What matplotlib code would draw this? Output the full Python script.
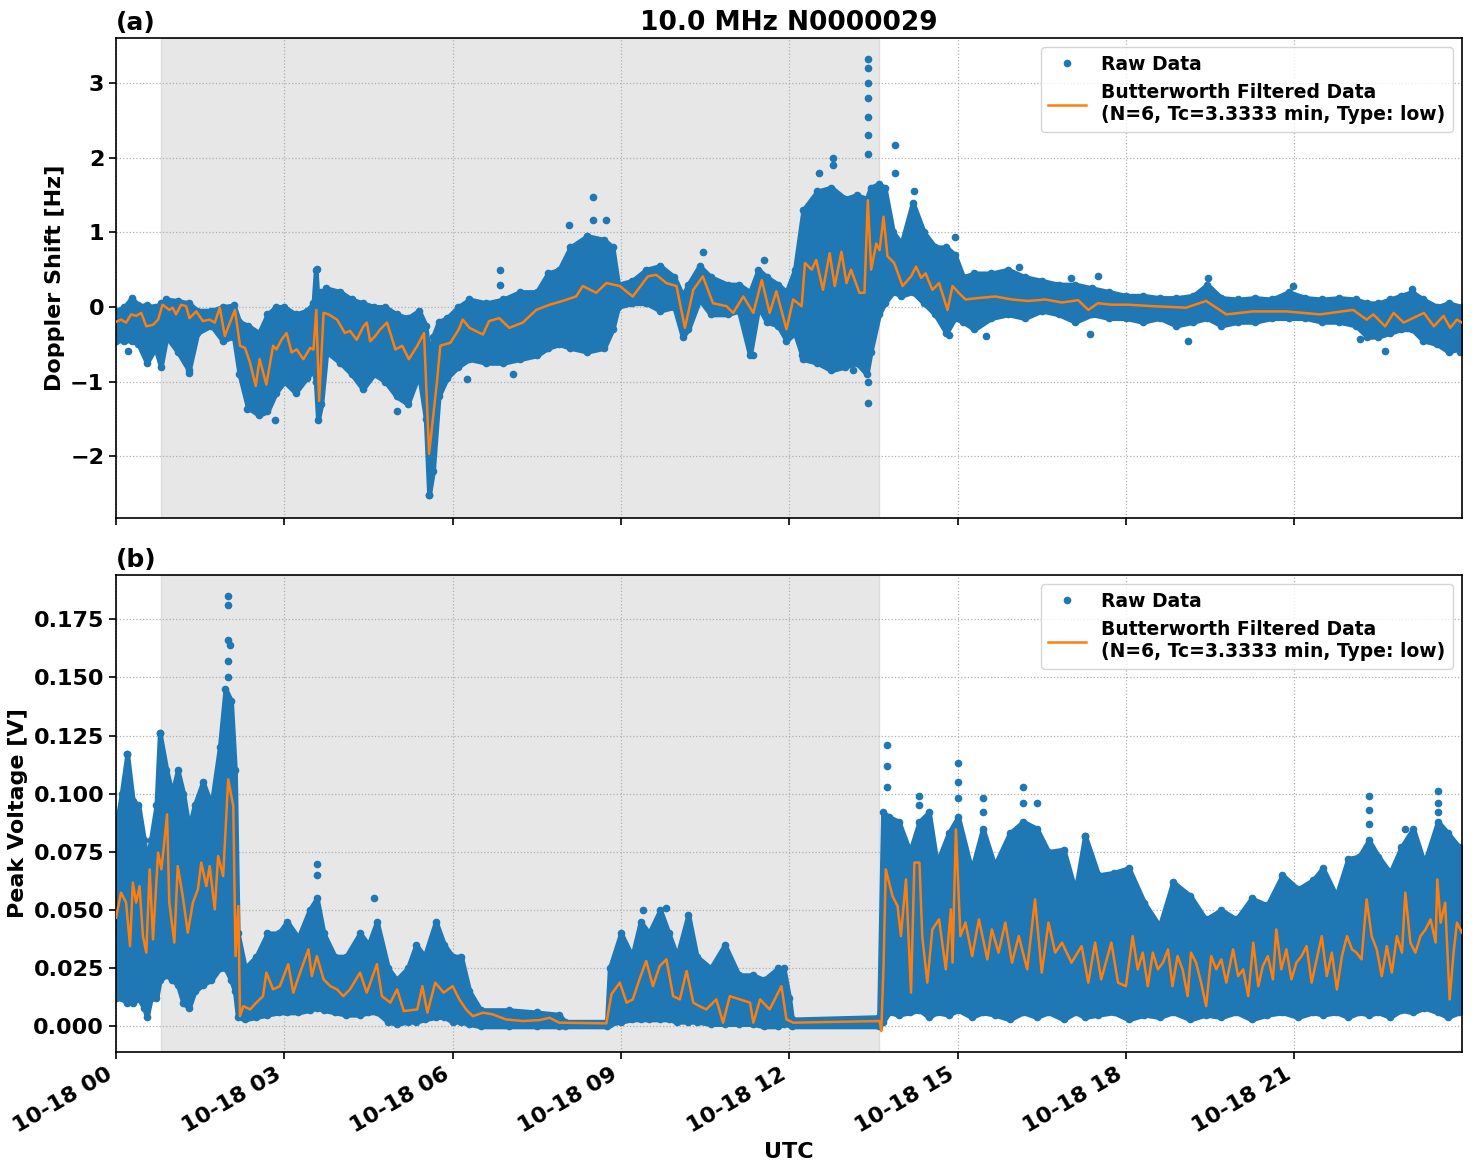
import numpy as np
import matplotlib
matplotlib.use("Agg")
import matplotlib.pyplot as plt
import matplotlib.dates as mdates
from datetime import datetime, timedelta

# ---------------- data (hours after 2023-10-18 00:00 UTC) ----------------
# Panel (a): Doppler shift raw-data envelope
dop_band_t = [0.00, 0.15, 0.28, 0.40, 0.55, 0.70, 0.80, 0.90, 1.10, 1.30, 1.45, 1.70, 1.90, 2.10,
              2.20, 2.35, 2.55, 2.70, 2.85, 3.00, 3.20, 3.40, 3.52, 3.56, 3.60, 3.66, 3.75, 4.00,
              4.20, 4.40, 4.60, 4.80, 5.00, 5.20, 5.40, 5.52, 5.58, 5.65, 5.75, 5.90, 6.10, 6.30,
              6.60, 6.90, 7.20, 7.50, 7.70, 7.90, 8.10, 8.40, 8.70, 8.85, 8.95, 9.20, 9.45, 9.70,
              9.95, 10.10, 10.20, 10.40, 10.60, 10.90, 11.10, 11.30, 11.45, 11.60, 11.80, 11.95,
              12.10, 12.25, 12.50, 12.75, 13.00, 13.20, 13.38, 13.45, 13.60, 13.70, 13.85, 14.00,
              14.20, 14.40, 14.60, 14.80, 14.95, 15.10, 15.30, 15.60, 15.90, 16.20, 16.50, 16.80,
              17.10, 17.40, 17.70, 18.00, 18.30, 18.60, 18.90, 19.20, 19.45, 19.70, 20.00, 20.30,
              20.60, 20.90, 21.20, 21.50, 21.80, 22.10, 22.30, 22.50, 22.70, 22.90, 23.10, 23.30,
              23.55, 23.75, 23.99]
dop_band_hi = [-0.05, 0.00, 0.12, 0.02, 0.02, 0.00, 0.05, 0.10, 0.08, 0.05, -0.05, -0.05, 0.00, 0.02,
               -0.20, -0.25, -0.35, -0.10, 0.00, 0.00, -0.10, -0.05, 0.05, 0.50, 0.00, 0.20, 0.25, 0.20,
               0.10, 0.05, 0.00, 0.00, -0.10, -0.15, -0.05, -0.25, -0.70, -0.40, -0.20, -0.15, 0.00, 0.10,
               0.05, 0.10, 0.20, 0.20, 0.45, 0.50, 0.80, 0.95, 0.90, 0.80, 0.30, 0.35, 0.50, 0.55,
               0.40, 0.15, 0.30, 0.55, 0.40, 0.30, 0.30, 0.20, 0.50, 0.40, 0.30, 0.20,
               0.50, 1.30, 1.55, 1.60, 1.45, 1.50, 1.45, 1.60, 1.65, 1.60, 1.00, 0.85,
               1.40, 1.00, 0.80, 0.80, 0.70, 0.40, 0.45, 0.45, 0.50, 0.40, 0.35, 0.30,
               0.30, 0.25, 0.20, 0.15, 0.15, 0.12, 0.12, 0.15, 0.30, 0.12, 0.10, 0.12,
               0.10, 0.20, 0.12, 0.10, 0.12, 0.10, 0.05, 0.05, 0.10, 0.15, 0.20, 0.10,
               0.00, 0.05, 0.00]
dop_band_lo = [-0.45, -0.45, -0.45, -0.50, -0.75, -0.55, -0.80, -0.40, -0.60, -0.85, -0.35, -0.25, -0.45, -0.40,
               -0.90, -1.35, -1.45, -1.40, -1.15, -1.00, -1.15, -0.95, -0.85, -1.00, -1.52, -1.30, -0.60, -0.75,
               -0.90, -1.10, -0.90, -1.00, -1.20, -1.30, -0.90, -1.50, -2.52, -2.20, -1.20, -0.95, -0.80, -0.70,
               -0.75, -0.75, -0.70, -0.65, -0.55, -0.50, -0.55, -0.60, -0.55, -0.30, 0.00, 0.05, 0.05, -0.05,
               0.00, -0.40, -0.30, 0.10, -0.10, -0.10, -0.05, -0.65, 0.00, -0.20, -0.25, -0.45,
               -0.35, -0.70, -0.75, -0.85, -0.80, -0.75, -0.90, -0.60, -0.10, 0.05, 0.20, 0.15,
               0.20, 0.05, -0.10, -0.35, -0.15, -0.20, -0.30, -0.15, -0.10, -0.15, -0.05, -0.10,
               -0.20, -0.10, -0.15, -0.15, -0.20, -0.15, -0.25, -0.20, -0.15, -0.25, -0.20, -0.20,
               -0.15, -0.15, -0.15, -0.20, -0.20, -0.25, -0.40, -0.40, -0.35, -0.30, -0.30, -0.45,
               -0.50, -0.60, -0.55]
# isolated raw points of panel (a)
dop_out_t = [0.22, 1.31, 2.33, 2.83, 3.58, 5.01, 5.58, 6.25, 6.85, 6.85, 7.07, 8.08, 8.51, 8.51, 8.73,
             10.46, 11.36, 11.55, 12.23, 12.53, 12.78, 12.78, 13.13, 13.40, 13.40, 13.40, 13.40, 13.40,
             13.40, 13.40, 13.41, 13.41, 13.89, 13.89, 14.23, 14.23, 14.84, 14.95, 15.50, 16.09, 17.03,
             17.36, 17.50, 19.10, 19.46, 20.98, 22.17, 22.61, 23.10, 23.95]
dop_out_v = [-0.59, -0.88, -1.37, -1.52, 0.51, -1.39, -2.52, -0.96, 0.49, 0.29, -0.90, 1.10, 1.48, 1.17, 1.17,
             0.74, -0.64, 0.63, -0.64, 1.79, 2.00, 1.90, -0.84, 3.32, 3.20, 3.00, 2.80, 2.55,
             2.30, 2.05, -1.01, -1.29, 2.17, 1.79, 1.56, 1.12, -0.37, 0.94, -0.39, 0.54, 0.39,
             -0.36, 0.41, -0.46, 0.39, 0.28, -0.43, -0.59, 0.24, -0.61]
# Butterworth filtered Doppler shift
dop_filt_t = [0.00, 0.09, 0.18, 0.27, 0.36, 0.45, 0.54, 0.66, 0.75, 0.83, 0.95, 1.01, 1.07, 1.16, 1.25,
              1.31, 1.43, 1.55, 1.67, 1.76, 1.85, 1.94, 2.03, 2.12, 2.21, 2.30, 2.39, 2.49, 2.56, 2.68,
              2.80, 2.86, 2.95, 3.04, 3.13, 3.22, 3.34, 3.46, 3.52, 3.57, 3.62, 3.70, 3.79, 3.94, 4.08,
              4.17, 4.29, 4.41, 4.47, 4.53, 4.62, 4.71, 4.83, 4.98, 5.10, 5.22, 5.37, 5.49, 5.58, 5.72,
              5.78, 5.96, 6.11, 6.18, 6.30, 6.54, 6.65, 6.83, 7.01, 7.25, 7.49, 7.73, 7.96, 8.20, 8.32,
              8.56, 8.74, 8.98, 9.21, 9.48, 9.63, 9.81, 9.99, 10.14, 10.29, 10.46, 10.64, 10.88, 11.00,
              11.18, 11.36, 11.51, 11.65, 11.77, 11.95, 12.07, 12.22, 12.28, 12.40, 12.48, 12.60, 12.72,
              12.81, 12.93, 13.02, 13.10, 13.25, 13.34, 13.40, 13.46, 13.55, 13.61, 13.68, 13.75, 13.87,
              14.02, 14.17, 14.26, 14.35, 14.43, 14.55, 14.67, 14.82, 14.91, 15.02, 15.14, 15.38, 15.67,
              15.97, 16.26, 16.56, 16.86, 17.15, 17.33, 17.50, 17.74, 18.04, 18.48, 19.07, 19.43, 19.79,
              20.27, 20.86, 21.46, 22.05, 22.29, 22.41, 22.62, 22.77, 22.95, 23.31, 23.49, 23.66, 23.78,
              23.90, 23.99]
dop_filt_v = [-0.20, -0.17, -0.21, -0.10, -0.12, -0.08, -0.26, -0.24, -0.17, 0.03, -0.04, -0.01, -0.10, 0.03, 0.01,
              -0.15, -0.06, -0.19, -0.17, -0.21, -0.01, -0.39, -0.21, -0.04, -0.52, -0.55, -0.75, -1.06, -0.70, -1.04,
              -0.52, -0.57, -0.44, -0.35, -0.61, -0.57, -0.70, -0.55, -0.57, -0.04, -1.26, -0.08, -0.10, -0.17, -0.35,
              -0.32, -0.44, -0.26, -0.21, -0.46, -0.39, -0.30, -0.21, -0.57, -0.52, -0.70, -0.52, -0.35, -1.97, -1.01,
              -0.52, -0.48, -0.30, -0.17, -0.28, -0.37, -0.19, -0.15, -0.28, -0.21, -0.04, 0.03, 0.08, 0.14, 0.28,
              0.19, 0.32, 0.28, 0.14, 0.41, 0.43, 0.32, 0.28, -0.28, 0.23, 0.41, 0.05, 0.01, -0.08,
              0.14, -0.08, 0.36, -0.08, 0.21, -0.30, 0.10, 0.01, 0.59, 0.50, 0.63, 0.23, 0.72,
              0.28, 0.74, 0.32, 0.50, 0.19, 0.19, 1.43, 0.50, 0.85, 0.76, 1.21, 0.68, 0.59,
              0.28, 0.41, 0.54, 0.39, 0.45, 0.23, 0.32, -0.04, 0.28, 0.19, 0.10, 0.12, 0.14,
              0.10, 0.08, 0.10, 0.06, 0.09, -0.04, 0.05, 0.03, 0.03, 0.01, -0.01, 0.08, -0.10,
              -0.06, -0.06, -0.10, -0.04, -0.17, -0.10, -0.26, -0.08, -0.21, -0.08, -0.26, -0.12, -0.28,
              -0.17, -0.21]

# Panel (b): peak voltage raw-data envelope
vol_band_t = [0.00, 0.10, 0.20, 0.30, 0.40, 0.50, 0.55, 0.62, 0.72, 0.78, 0.90, 1.00, 1.10, 1.20, 1.30,
              1.40, 1.55, 1.70, 1.85, 1.95, 2.05, 2.12, 2.17, 2.30, 2.50, 2.70, 2.90, 3.05, 3.25, 3.45,
              3.58, 3.70, 3.90, 4.10, 4.35, 4.50, 4.65, 4.85, 5.00, 5.20, 5.35, 5.50, 5.70, 5.85, 6.00,
              6.15, 6.30, 6.50, 7.00, 7.50, 7.90, 8.00, 8.75, 8.80, 9.00, 9.20, 9.35, 9.50, 9.70, 9.85,
              10.00, 10.20, 10.35, 10.60, 10.85, 11.10, 11.35, 11.55, 11.80, 11.90, 12.00, 12.05, 13.60,
              13.67, 13.78, 13.95, 14.15, 14.32, 14.49, 14.63, 14.84, 15.01, 15.25, 15.45, 15.66, 15.93,
              16.17, 16.41, 16.62, 16.89, 17.10, 17.27, 17.51, 17.78, 18.05, 18.33, 18.60, 18.84, 19.15,
              19.42, 19.70, 19.97, 20.24, 20.52, 20.79, 21.07, 21.34, 21.51, 21.75, 21.96, 22.16, 22.33,
              22.50, 22.71, 22.91, 23.12, 23.32, 23.56, 23.74, 23.94, 23.99]
vol_band_hi = [0.085, 0.100, 0.117, 0.097, 0.095, 0.080, 0.070, 0.080, 0.095, 0.126, 0.110, 0.100, 0.110, 0.100, 0.085,
               0.095, 0.105, 0.095, 0.120, 0.145, 0.140, 0.110, 0.040, 0.025, 0.030, 0.040, 0.040, 0.045, 0.038, 0.050,
               0.055, 0.040, 0.030, 0.030, 0.040, 0.035, 0.045, 0.025, 0.020, 0.025, 0.035, 0.030, 0.045, 0.035, 0.030,
               0.030, 0.015, 0.007, 0.007, 0.006, 0.005, 0.002, 0.002, 0.025, 0.040, 0.030, 0.045, 0.040, 0.050, 0.040,
               0.030, 0.048, 0.030, 0.025, 0.035, 0.022, 0.022, 0.020, 0.025, 0.025, 0.012, 0.003, 0.004,
               0.092, 0.090, 0.088, 0.075, 0.088, 0.092, 0.070, 0.083, 0.090, 0.067, 0.085, 0.069, 0.083,
               0.088, 0.085, 0.075, 0.076, 0.058, 0.082, 0.065, 0.066, 0.068, 0.053, 0.043, 0.062, 0.056,
               0.046, 0.050, 0.046, 0.055, 0.052, 0.065, 0.059, 0.063, 0.068, 0.056, 0.072, 0.073, 0.080,
               0.073, 0.066, 0.077, 0.085, 0.070, 0.088, 0.083, 0.077, 0.075]
vol_band_lo = [0.012, 0.012, 0.010, 0.010, 0.012, 0.008, 0.004, 0.012, 0.012, 0.020, 0.022, 0.020, 0.018, 0.010, 0.008,
               0.015, 0.018, 0.020, 0.025, 0.025, 0.020, 0.015, 0.004, 0.003, 0.004, 0.005, 0.006, 0.006, 0.006, 0.007,
               0.008, 0.007, 0.006, 0.005, 0.005, 0.006, 0.006, 0.002, 0.001, 0.002, 0.002, 0.003, 0.004, 0.004, 0.002,
               0.002, 0.001, 0.000, 0.000, 0.000, 0.000, 0.000, 0.000, 0.001, 0.002, 0.003, 0.003, 0.003, 0.003, 0.003,
               0.002, 0.002, 0.002, 0.001, 0.001, 0.001, 0.001, 0.000, 0.000, 0.001, 0.001, 0.000, 0.000,
               0.002, 0.006, 0.005, 0.006, 0.007, 0.004, 0.006, 0.005, 0.007, 0.004, 0.006, 0.005, 0.003,
               0.006, 0.004, 0.006, 0.003, 0.006, 0.004, 0.005, 0.006, 0.003, 0.005, 0.004, 0.006, 0.003,
               0.005, 0.004, 0.006, 0.003, 0.005, 0.006, 0.004, 0.006, 0.005, 0.006, 0.004, 0.006, 0.005,
               0.006, 0.004, 0.007, 0.006, 0.008, 0.006, 0.004, 0.006, 0.008]
vol_out_t = [0.20, 0.78, 1.99, 1.99, 2.00, 2.04, 2.00, 1.99, 3.58, 3.58, 4.60, 9.40, 9.80, 13.74, 13.74,
             13.74, 14.32, 14.32, 15.01, 15.01, 15.01, 15.45, 15.45, 16.17, 16.17, 16.41, 17.27, 22.33,
             22.33, 22.33, 22.98, 23.56, 23.56, 23.56]
vol_out_v = [0.117, 0.126, 0.185, 0.181, 0.166, 0.164, 0.157, 0.150, 0.070, 0.065, 0.055, 0.050, 0.051, 0.121, 0.112,
             0.103, 0.099, 0.095, 0.113, 0.105, 0.098, 0.098, 0.092, 0.103, 0.096, 0.096, 0.082, 0.099,
             0.093, 0.087, 0.085, 0.101, 0.096, 0.092]
# Butterworth filtered peak voltage
vol_filt_t = [0.00, 0.09, 0.18, 0.25, 0.30, 0.36, 0.42, 0.48, 0.54, 0.60, 0.66, 0.75, 0.81, 0.86, 0.91,
              0.95, 1.04, 1.10, 1.19, 1.28, 1.37, 1.46, 1.52, 1.61, 1.67, 1.76, 1.82, 1.91, 2.00, 2.09,
              2.13, 2.18, 2.21, 2.27, 2.39, 2.50, 2.62, 2.68, 2.80, 2.92, 3.07, 3.16, 3.28, 3.43, 3.49,
              3.58, 3.70, 3.82, 3.94, 4.05, 4.17, 4.35, 4.47, 4.65, 4.74, 4.89, 5.01, 5.13, 5.37, 5.46,
              5.55, 5.69, 5.84, 6.00, 6.12, 6.24, 6.36, 6.54, 6.71, 6.95, 7.25, 7.55, 7.73, 7.90, 8.74,
              8.83, 8.98, 9.10, 9.21, 9.33, 9.45, 9.57, 9.69, 9.81, 9.93, 10.05, 10.17, 10.29, 10.40,
              10.52, 10.70, 10.82, 10.94, 11.12, 11.30, 11.36, 11.48, 11.65, 11.86, 11.95, 12.07, 13.61,
              13.64, 13.68, 13.72, 13.84, 13.93, 13.99, 14.08, 14.17, 14.23, 14.32, 14.37, 14.46, 14.55,
              14.67, 14.79, 14.88, 14.91, 14.97, 15.05, 15.14, 15.26, 15.38, 15.53, 15.61, 15.73, 15.85,
              15.97, 16.09, 16.24, 16.38, 16.50, 16.62, 16.74, 16.86, 17.03, 17.21, 17.33, 17.45, 17.56,
              17.74, 17.86, 18.00, 18.12, 18.21, 18.30, 18.39, 18.48, 18.57, 18.66, 18.75, 18.83, 18.92,
              19.01, 19.10, 19.16, 19.25, 19.34, 19.43, 19.52, 19.61, 19.70, 19.79, 19.91, 20.00, 20.09,
              20.18, 20.27, 20.36, 20.44, 20.53, 20.62, 20.68, 20.77, 20.86, 20.95, 21.04, 21.13, 21.22,
              21.31, 21.40, 21.49, 21.58, 21.67, 21.76, 21.85, 21.94, 22.03, 22.11, 22.20, 22.29, 22.38,
              22.47, 22.56, 22.65, 22.74, 22.83, 22.92, 22.98, 23.07, 23.16, 23.25, 23.34, 23.43, 23.52,
              23.55, 23.61, 23.69, 23.77, 23.84, 23.90, 23.99]
vol_filt_v = [0.0467, 0.0575, 0.0532, 0.0345, 0.0618, 0.0532, 0.0603, 0.0388, 0.0317, 0.0675, 0.0374, 0.0747, 0.0675, 0.0790, 0.0911,
              0.0532, 0.0360, 0.0689, 0.0560, 0.0403, 0.0532, 0.0589, 0.0704, 0.0603, 0.0689, 0.0503, 0.0732, 0.0646, 0.1062, 0.0947,
              0.0302, 0.0517, 0.0044, 0.0087, 0.0073, 0.0102, 0.0130, 0.0231, 0.0159, 0.0173, 0.0267, 0.0145, 0.0231, 0.0331, 0.0216,
              0.0302, 0.0202, 0.0173, 0.0159, 0.0130, 0.0159, 0.0231, 0.0145, 0.0267, 0.0130, 0.0102, 0.0159, 0.0066, 0.0073, 0.0173,
              0.0059, 0.0188, 0.0145, 0.0173, 0.0116, 0.0073, 0.0044, 0.0059, 0.0052, 0.0030, 0.0023, 0.0027, 0.0037, 0.0016, 0.0013,
              0.0138, 0.0188, 0.0102, 0.0116, 0.0202, 0.0281, 0.0173, 0.0259, 0.0288, 0.0130, 0.0116, 0.0238, 0.0102, 0.0087,
              0.0073, 0.0116, 0.0016, 0.0130, 0.0116, 0.0102, 0.0016, 0.0116, 0.0073, 0.0173, 0.0030, 0.0016, 0.0023,
              -0.0020, 0.0259, 0.0675, 0.0560, 0.0517, 0.0388, 0.0632, 0.0145, 0.0704, 0.0704, 0.0388, 0.0188, 0.0417,
              0.0460, 0.0245, 0.0503, 0.0274, 0.0847, 0.0388, 0.0446, 0.0302, 0.0460, 0.0288, 0.0417, 0.0317, 0.0446,
              0.0274, 0.0388, 0.0245, 0.0546, 0.0231, 0.0446, 0.0317, 0.0360, 0.0274, 0.0345, 0.0188, 0.0360, 0.0202,
              0.0360, 0.0188, 0.0173, 0.0388, 0.0245, 0.0317, 0.0173, 0.0317, 0.0245, 0.0274, 0.0331, 0.0173, 0.0302,
              0.0245, 0.0130, 0.0317, 0.0274, 0.0188, 0.0087, 0.0302, 0.0245, 0.0288, 0.0188, 0.0331, 0.0216, 0.0245,
              0.0130, 0.0360, 0.0173, 0.0259, 0.0302, 0.0202, 0.0417, 0.0245, 0.0331, 0.0202, 0.0274, 0.0302, 0.0345,
              0.0188, 0.0288, 0.0388, 0.0216, 0.0317, 0.0159, 0.0302, 0.0388, 0.0331, 0.0317, 0.0288, 0.0546, 0.0388,
              0.0331, 0.0216, 0.0345, 0.0231, 0.0388, 0.0317, 0.0575, 0.0360, 0.0317, 0.0388, 0.0417, 0.0460, 0.0360,
              0.0632, 0.0446, 0.0532, 0.0116, 0.0317, 0.0446, 0.0403]

shade_start_h, shade_end_h = 0.80, 13.60
base = datetime(2023, 10, 18)


def to_dt(hours):
    return [base + timedelta(hours=h) for h in hours]


# ---------------- figure ----------------
plt.rcParams['font.family'] = 'DejaVu Sans'
plt.rcParams['font.weight'] = 'bold'
plt.rcParams['axes.labelweight'] = 'bold'
plt.rcParams['axes.titleweight'] = 'bold'

fig = plt.figure(figsize=(14.72, 11.72), dpi=100)
ax1 = fig.add_axes([0.0788, 0.558, 0.9144, 0.4096])
ax2 = fig.add_axes([0.0788, 0.1024, 0.9144, 0.4070], sharex=ax1)

C_RAW = '#1f77b4'
C_FILT = '#ff7f0e'
fb = "Butterworth Filtered Data\n(N=6, Tc=3.3333 min, Type: low)"


def draw(ax, bt, bhi, blo, ot, ov, ft, fv):
    tb = to_dt(bt)
    ax.axvspan(base + timedelta(hours=shade_start_h), base + timedelta(hours=shade_end_h),
               color='#e7e7e7', zorder=0.2, lw=1, ec='#dcdcdc')
    ax.fill_between(tb, blo, bhi, color=C_RAW, lw=3.5, ec=C_RAW, zorder=2)
    ax.plot(tb, bhi, '.', color=C_RAW, ms=9, zorder=2)
    ax.plot(tb, blo, '.', color=C_RAW, ms=9, zorder=2)
    ax.plot(to_dt(ot), ov, '.', color=C_RAW, ms=9, zorder=2, label='Raw Data')
    ax.plot(to_dt(ft), fv, '-', color=C_FILT, lw=1.8, zorder=3, label=fb)
    ax.grid(True, linestyle=':', color='#b0b0b0', lw=0.9, zorder=1)
    ax.legend(loc='upper right', prop={'weight': 'bold', 'size': 13.5})
    for s in ax.spines.values():
        s.set_linewidth(1.2)
    ax.tick_params(labelsize=16, width=1.2, length=5)


draw(ax1, dop_band_t, dop_band_hi, dop_band_lo, dop_out_t, dop_out_v, dop_filt_t, dop_filt_v)
draw(ax2, vol_band_t, vol_band_hi, vol_band_lo, vol_out_t, vol_out_v, vol_filt_t, vol_filt_v)

ax1.set_ylim(-2.83, 3.606)
ax1.set_yticks([-2, -1, 0, 1, 2, 3])
ax1.set_yticklabels(['\u22122', '\u22121', '0', '1', '2', '3'])
ax2.set_ylim(-0.011, 0.194)
ax2.set_yticks([0.0, 0.025, 0.05, 0.075, 0.1, 0.125, 0.15, 0.175])
ax2.yaxis.set_major_formatter(matplotlib.ticker.FormatStrFormatter('%.3f'))

ax1.set_xlim(base, base + timedelta(hours=23.99))
ax2.xaxis.set_major_locator(mdates.HourLocator(byhour=range(0, 24, 3)))
ax2.xaxis.set_major_formatter(mdates.DateFormatter('%m-%d %H'))
plt.setp(ax1.get_xticklabels(), visible=False)
for lab in ax2.get_xticklabels():
    lab.set_rotation(30)
    lab.set_ha('right')

ax1.set_ylabel('Doppler Shift [Hz]', fontsize=16)
ax2.set_ylabel('Peak Voltage [V]', fontsize=16)
ax2.set_xlabel('UTC', fontsize=16)
ax1.set_title('10.0 MHz N0000029', fontsize=19, pad=6)
ax1.set_title('(a)', loc='left', fontsize=18, pad=6)
ax2.set_title('(b)', loc='left', fontsize=18, pad=6)

fig.savefig('out.png', dpi=100)
